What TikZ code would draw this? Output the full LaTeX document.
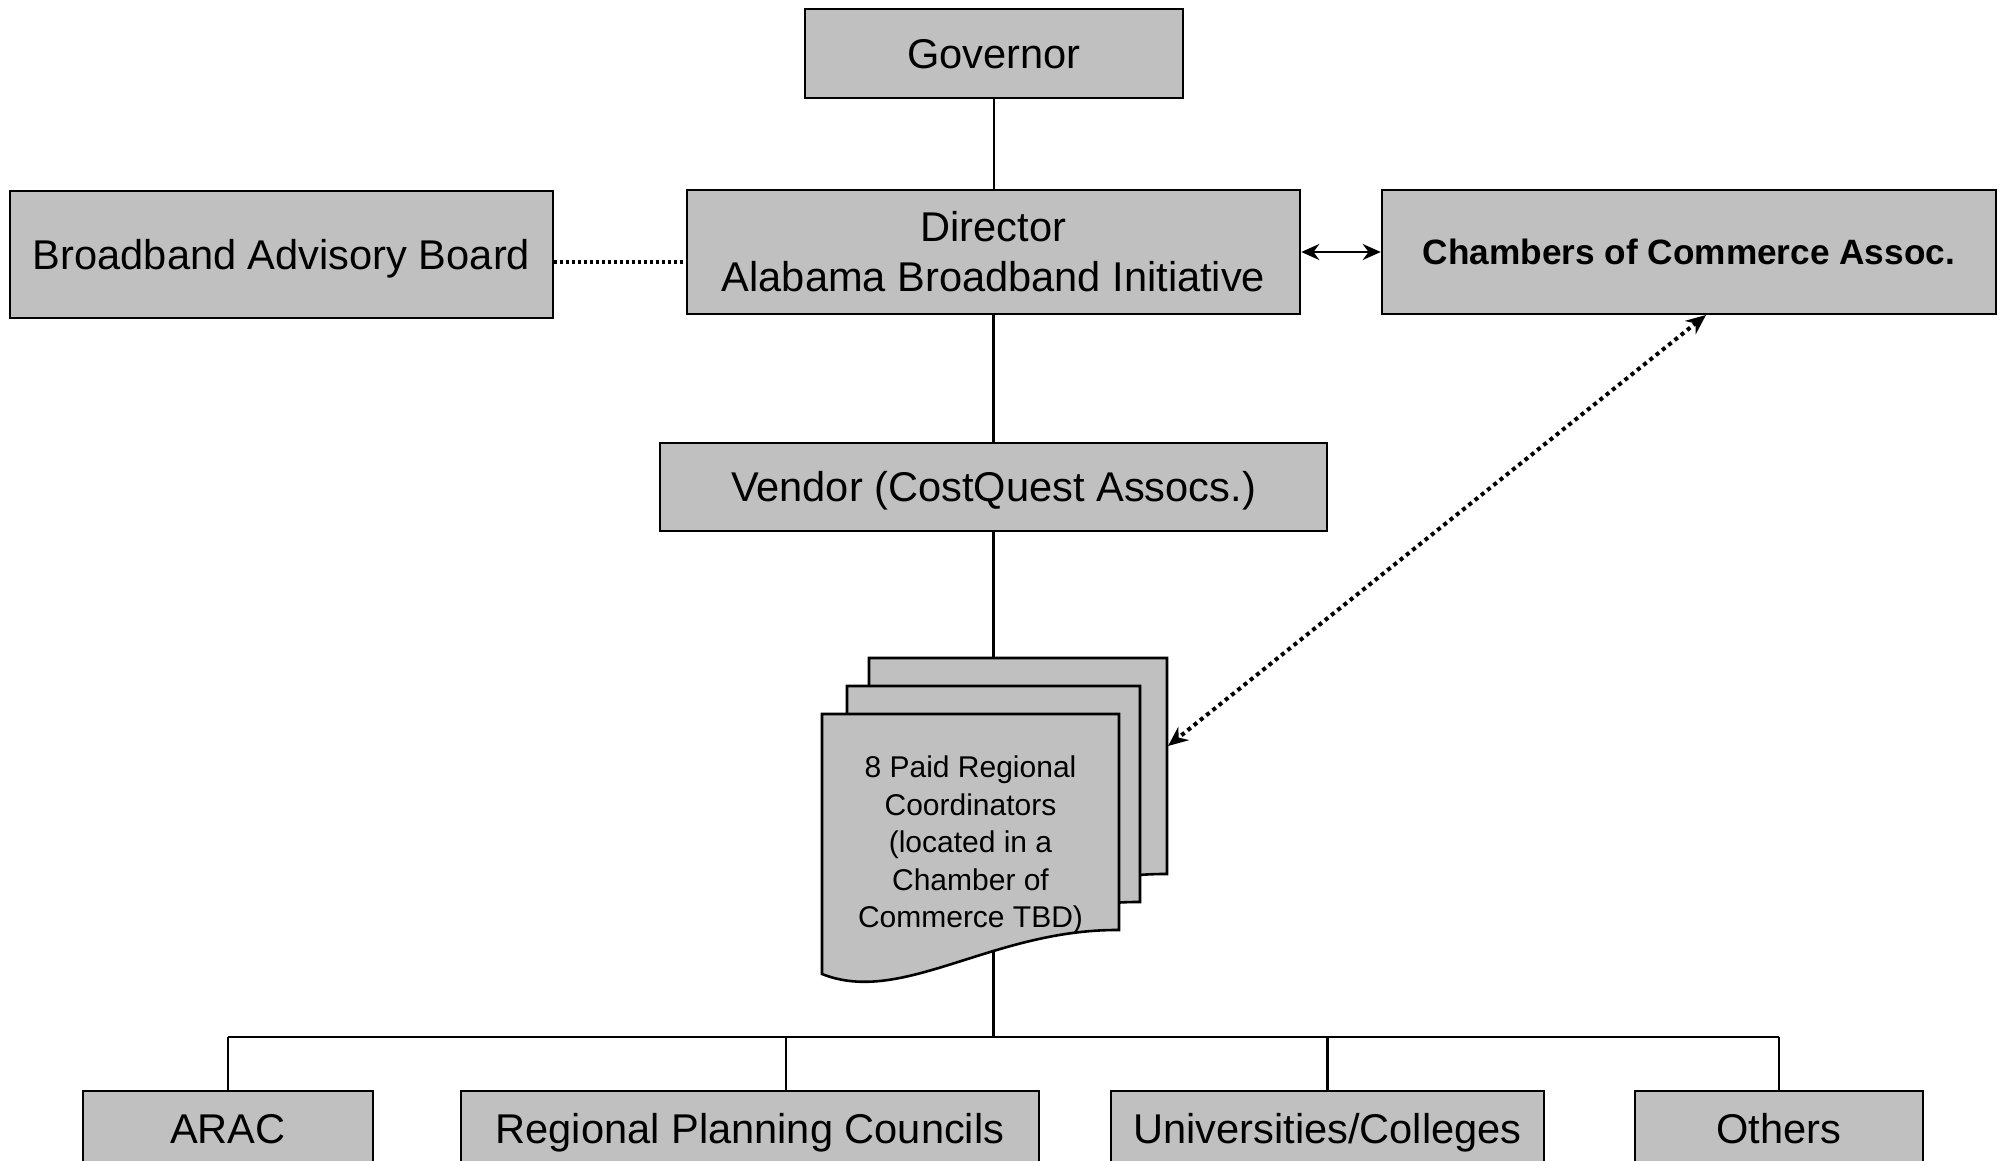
\documentclass[tikz,border=0pt]{standalone}
\usepackage{fontspec}
\setmainfont{Liberation Sans}
\usetikzlibrary{calc,arrows.meta}
\definecolor{boxgray}{RGB}{192,192,192}
\begin{document}
\begin{tikzpicture}[x=0.5pt,y=-0.5pt,
  box/.style={draw=black, line width=1.3pt, fill=boxgray, inner sep=0pt, align=center, font=\fontsize{20.8}{25}\selectfont},
  oneline/.style={text height=14.9pt, text depth=0pt},
  conn/.style={line width=1.2pt},
  docshape/.style={draw=black, line width=1.3pt, fill=boxgray},
  smalltip/.tip={Stealth[length=9pt,width=8pt]},
  bigtip/.tip={Stealth[length=10pt,width=8.5pt]}]
\useasboundingbox (0,0) rectangle (2001,1161);
\fill[white] (0,0) rectangle (2001,1161);
\clip (0,0) rectangle (2001,1161);

% boxes
\node[box, oneline, minimum width=189pt, minimum height=44.5pt] (gov) at (994,53.5) {Governor};
\node[box, minimum width=306.5pt, minimum height=62pt] (dir) at (993.5,252) {Director\\Alabama Broadband Initiative};
\node[box, oneline, minimum width=271.5pt, minimum height=63.5pt] (bab) at (281.5,254.5) {Broadband Advisory Board};
\node[box, font=\bfseries\fontsize{17.6}{22}\selectfont, text height=12.6pt, text depth=0pt, minimum width=307pt, minimum height=62pt] (cham) at (1689,252) {Chambers of Commerce Assoc.};
\node[box, oneline, minimum width=333.5pt, minimum height=44pt] (vend) at (993.5,487) {Vendor (CostQuest Assocs.)};

\node[box, oneline, minimum width=145pt, minimum height=38pt] (arac) at (228,1129) {ARAC};
\node[box, oneline, minimum width=289pt, minimum height=38pt] (rpc) at (750,1129) {Regional Planning Councils};
\node[box, oneline, minimum width=216.5pt, minimum height=38pt] (uc) at (1327.5,1129) {Universities/Colleges};
\node[box, oneline, minimum width=144pt, minimum height=38pt] (oth) at (1779,1129) {Others};

% coordinates
\coordinate (bar) at (994,1037);
\coordinate (rpcdrop) at (786,1037);
\coordinate (babline) at (0,262);
\coordinate (chamB) at (1706,315);
\coordinate (backR) at (1168,746);

% tree connectors
\draw[conn] (gov.south) -- (gov.south |- dir.north);
\draw[conn] (dir.south) -- (dir.south |- vend.north);
\draw[conn] (vend.south) -- (vend.south |- bar);
\draw[conn] (arac.north |- bar) -- (oth.north |- bar);
\draw[conn] (arac.north |- bar) -- (arac.north);
\draw[conn] (rpcdrop) -- (rpcdrop |- rpc.north);
\draw[conn] (uc.north |- bar) -- (uc.north);
\draw[conn] (oth.north |- bar) -- (oth.north);

% document stack
\begin{scope}[shift={(869,658)}]
  \path[docshape] (0,0) -- (298,0) -- (298,216) .. controls (170,215) and (80,290) .. (0,258) -- cycle;
\end{scope}
\begin{scope}[shift={(847,686)}]
  \path[docshape] (0,0) -- (293,0) -- (293,216) .. controls (168,215) and (79,290) .. (0,258) -- cycle;
\end{scope}
\begin{scope}[shift={(822,714)}]
  \path[docshape] (0,0) -- (297,0) -- (297,216) .. controls (170,215) and (80,292) .. (0,260) -- cycle;
\end{scope}
\node[font=\fontsize{15}{18.75}\selectfont, align=center, inner sep=0pt] (coord) at (970.5,845) {8 Paid Regional\\Coordinators\\(located in a\\Chamber of\\Commerce TBD)};

% other connectors
\draw[line width=1.6pt, dash pattern=on 1.5pt off 1.5pt] (bab.east |- babline) -- (dir.west |- babline);
\draw[conn, smalltip-smalltip] (dir.east) -- (cham.west);
\draw[line width=2pt, dash pattern=on 2pt off 2pt, bigtip-bigtip] (chamB) -- (backR);
\end{tikzpicture}
\end{document}
